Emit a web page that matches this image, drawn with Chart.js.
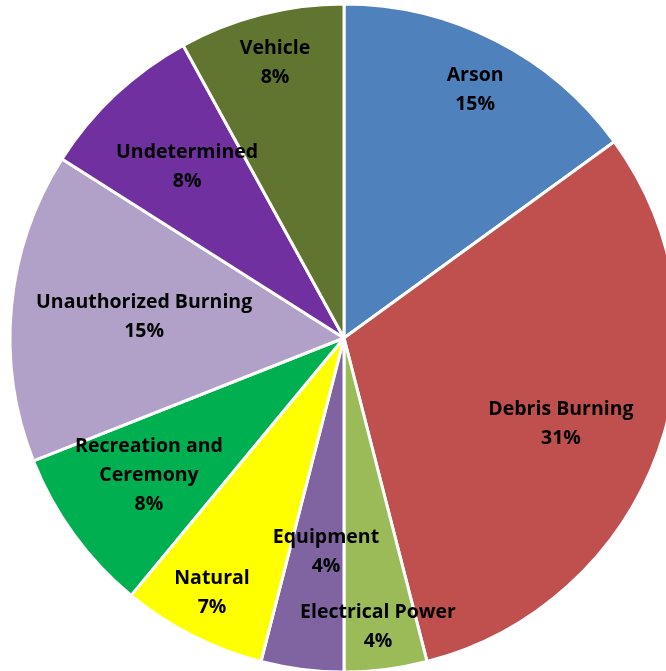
<!DOCTYPE html>
<html>
<head>
<meta charset="utf-8">
<script src="https://cdn.jsdelivr.net/npm/chart.js@4.4.1/dist/chart.umd.min.js"></script>
<style>
  html, body { margin: 0; padding: 0; background: #ffffff; overflow: hidden; }
  body { width: 666px; height: 671px; position: relative; }
  #wrap { position: absolute; left: 0; top: 0; width: 688px; height: 676px; }
</style>
</head>
<body>
<div id="wrap"><canvas id="chart"></canvas></div>
<script>
// Wildfire causes, share of fires (%)
const causes = [
  'Arson',
  'Debris Burning',
  'Electrical Power',
  'Equipment',
  'Natural',
  ['Recreation and', 'Ceremony'],
  'Unauthorized Burning',
  'Undetermined',
  'Vehicle'
];
const shares = [15, 31, 4, 4, 7, 8, 15, 8, 8];
const sliceColors = [
  '#4F81BD', '#C0504D', '#9BBB59', '#8064A2', '#FFFF00',
  '#00B050', '#B1A0C7', '#7030A0', '#60752F'
];

// Label placement: distance along the slice's middle ray (fraction of radius)
// and a small turn away from that ray (degrees, clockwise)
const labelDepth = [0.843, 0.697, 0.867, 0.639, 0.857, 0.712, 0.602, 0.698, 0.853];
const labelTurn  = [0.75, 1.47, 0.46, -2.36, 0.46, 1.1, 0.88, 0.9, 0.4];

const sliceLabels = {
  id: 'sliceLabels',
  afterDatasetsDraw(chart) {
    const ctx = chart.ctx;
    const meta = chart.getDatasetMeta(0);
    const ds = chart.data.datasets[0];
    ctx.save();
    ctx.font = 'bold 19.5px "Open Sans", Lato, sans-serif';
    ctx.fillStyle = '#000000';
    ctx.textAlign = 'center';
    ctx.textBaseline = 'middle';
    const lineH = 29;
    meta.data.forEach((arc, i) => {
      const p = arc.getProps(['x', 'y', 'startAngle', 'endAngle', 'outerRadius'], true);
      const mid = (p.startAngle + p.endAngle) / 2 + labelTurn[i] * Math.PI / 180;
      const r = p.outerRadius * labelDepth[i];
      const cx = p.x + Math.cos(mid) * r;
      const cy = p.y + Math.sin(mid) * r + 1;
      const name = chart.data.labels[i];
      const lines = (Array.isArray(name) ? name.slice() : [name]);
      lines.push(ds.data[i] + '%');
      const top = cy - (lines.length - 1) * lineH / 2;
      lines.forEach((t, k) => ctx.fillText(t, cx, top + k * lineH));
    });
    ctx.restore();
  }
};

new Chart(document.getElementById('chart'), {
  type: 'pie',
  data: {
    labels: causes,
    datasets: [{
      data: shares,
      backgroundColor: sliceColors,
      borderColor: '#ffffff',
      borderWidth: 3,
      radius: 334
    }]
  },
  options: {
    responsive: true,
    maintainAspectRatio: false,
    animation: false,
    layout: { padding: 0 },
    plugins: {
      legend: { display: false },
      tooltip: { enabled: false }
    }
  },
  plugins: [sliceLabels]
});
</script>
</body>
</html>
